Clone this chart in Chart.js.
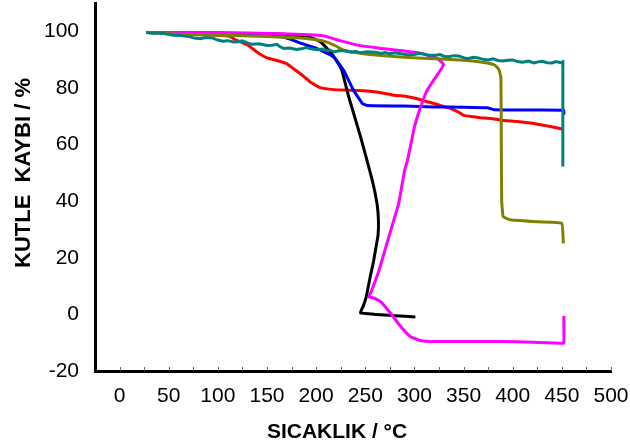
<!DOCTYPE html>
<html>
<head>
<meta charset="utf-8">
<script src="https://cdn.jsdelivr.net/npm/chart.js@4.4.1/dist/chart.umd.min.js"></script>
<style>
  html, body { margin: 0; padding: 0; background: #fff; }
  #wrap { width: 630px; height: 446px; }
</style>
</head>
<body>
<div id="wrap"><canvas id="tgaChart"></canvas></div>
<script>
// axis ticks and titles
const xTicks = [0, 50, 100, 150, 200, 250, 300, 350, 400, 450, 500];
const yTicks = [-20, 0, 20, 40, 60, 80, 100];
const xTitle = "SICAKLIK / °C";
const yTitle = "KUTLE  KAYBI / %";

// temperature (°C) / mass (%) readings for each sample
const blackT = [27, 60, 100, 150, 185, 197, 204, 214, 220, 226, 233, 245, 257, 262, 263.4, 263, 261, 258, 255, 251, 248, 245, 260, 280, 301];
const blackM = [99.6, 99.5, 99.3, 99.2, 98.4, 97.5, 96.4, 92.8, 90, 86.4, 77, 63, 47.5, 39, 33, 28, 23.9, 18, 13.3, 6.2, 3, 0.6, 0, -0.5, -0.9];

const redT = [27, 60, 100, 112, 118, 125, 131, 140, 150, 160, 170, 177, 184, 194, 204, 218, 235, 252, 265, 279, 292, 303, 312, 320, 330, 337, 345, 350, 360, 367, 378, 388, 405, 421.6, 435, 449, 451];
const redM = [99.6, 99.2, 98.6, 98.2, 97, 96, 95, 92.6, 90.6, 89.7, 88.6, 86.8, 85, 82.1, 80.1, 79.4, 79.2, 78.9, 78.4, 77.4, 77, 76.2, 75.2, 74.5, 73.4, 72.7, 71.4, 70.3, 69.8, 69.5, 69.2, 68.6, 68.1, 67.4, 66.6, 65.6, 65.5];

const blueT = [27, 80, 130, 160, 174, 184, 201, 218, 228, 238, 247, 252, 290, 320, 350, 374, 381, 420, 452, 452];
const blueM = [99.6, 99.3, 99, 98.3, 97.2, 95.8, 93.9, 90.9, 86.2, 79.2, 74.5, 73.8, 73.6, 73.3, 73.2, 73, 72.3, 72.2, 72.1, 70.5];

const magentaT = [27, 100, 163, 207, 224, 241, 265, 306, 323, 329.6, 322, 313, 306, 300, 293, 290, 284, 274, 264, 256, 253.5, 259, 265.5, 275.7, 286, 296, 306, 320, 354, 388, 420, 448.8, 452, 452];
const magentaM = [99.6, 99.6, 99.1, 98.4, 96.7, 95.2, 94, 92.3, 90.5, 88.2, 84, 79.2, 73, 66.2, 54.5, 50.9, 39.2, 27.4, 15.6, 8, 6.2, 5.7, 4.5, 0.4, -4.3, -7.9, -9.2, -9.6, -9.6, -9.6, -9.8, -10.2, -10.2, -0.6];

const tealT = [27, 32, 35, 41.5, 48, 55, 62, 70, 76, 82, 88, 95, 100, 105, 110, 116, 121, 125, 130, 135, 142, 150, 155, 160, 163, 167, 173, 180, 185, 190, 195, 201, 206, 210, 214, 218, 224, 230, 236, 240, 245, 252, 260, 266, 270, 275, 280, 286, 293, 300, 305, 310, 315, 320, 326, 330, 335, 340, 345, 350, 354, 360, 365, 370, 375, 380, 385, 390, 395, 400, 405, 410, 416, 421.6, 426, 430, 435, 440, 444, 449, 451, 451];
const tealM = [99.7, 99.4, 99.3, 99.5, 99.0, 98.6, 98.5, 98.2, 97.6, 97.4, 97.8, 97.6, 96.9, 96.5, 96.7, 96.2, 96.3, 96.6, 95.9, 95.4, 95.6, 95, 95.1, 95.4, 94.6, 93.9, 94.1, 93.6, 93.8, 94.3, 93.8, 93.5, 93.7, 93.2, 93.4, 92.7, 93.2, 93, 92.6, 92.9, 92.4, 92.8, 92.6, 92.2, 92.5, 92.1, 92.4, 92.1, 91.7, 91.8, 92.2, 91.9, 91.5, 91.5, 91.8, 91.2, 91, 91.4, 91.3, 90.7, 90.3, 90.8, 90.6, 90.1, 89.9, 90.3, 89.7, 89.5, 89.8, 89.9, 89.3, 89.1, 89.5, 88.8, 89.2, 89.4, 88.9, 88.8, 89.3, 88.9, 89.2, 52.2];

const oliveT = [27, 60, 100, 150, 184, 200, 211, 220, 228, 240, 252, 286, 320, 354, 374, 382, 386, 388, 388.4, 388.8, 390.3, 397, 420, 449.8, 451.5];
const oliveM = [99.6, 99, 98.6, 98.2, 97.6, 97, 96.2, 94.8, 93.3, 92.5, 91.9, 90.9, 90.3, 89.7, 88.8, 88, 86.5, 83.5, 60, 40, 34.5, 33.4, 32.8, 32.2, 25.1];

function pts(T, M) {
  return T.map((t, i) => ({ x: t, y: M[i] }));
}

function line(T, M, color, tension) {
  return {
    data: pts(T, M),
    borderColor: color,
    backgroundColor: color,
    borderWidth: 3,
    pointRadius: 0,
    showLine: true,
    tension: tension,
    fill: false
  };
}

// small inward tick marks on the temperature axis plus both axis titles
const decor = {
  id: "decor",
  beforeDatasetsDraw(chart) {
    const { ctx, chartArea, scales } = chart;
    ctx.save();
    ctx.strokeStyle = "#666";
    ctx.lineWidth = 1;
    for (let t = 0; t <= 500; t += 25) {
      const px = Math.round(scales.x.getPixelForValue(t)) + 0.5;
      ctx.beginPath();
      ctx.moveTo(px, chartArea.bottom);
      ctx.lineTo(px, chartArea.bottom - 4);
      ctx.stroke();
    }
    ctx.restore();
  },
  afterDraw(chart) {
    const ctx = chart.ctx;
    ctx.save();
    ctx.fillStyle = "#000";
    ctx.textAlign = "center";
    ctx.textBaseline = "middle";
    ctx.font = "bold 21px 'Liberation Sans', Arial, sans-serif";
    ctx.fillText(xTitle, 337, 432);
    ctx.translate(24, 173);
    ctx.rotate(-Math.PI / 2);
    ctx.font = "bold 22px 'Liberation Sans', Arial, sans-serif";
    ctx.fillText(yTitle, 0, 0);
    ctx.restore();
  }
};

const tickFont = { family: "'Liberation Sans', Arial, sans-serif", size: 21 };

new Chart(document.getElementById("tgaChart"), {
  type: "scatter",
  data: {
    datasets: [
      line(tealT, tealM, "#008080", 0),
      line(oliveT, oliveM, "#808000", 0.1),
      line(magentaT, magentaM, "#FF00FF", 0.1),
      line(blueT, blueM, "#0000FF", 0.1),
      line(blackT, blackM, "#000000", 0.1),
      line(redT, redM, "#FF0000", 0.1)
    ]
  },
  options: {
    responsive: true,
    maintainAspectRatio: false,
    animation: false,
    layout: { padding: { top: 3, right: 19, left: 0, bottom: 0 } },
    plugins: { legend: { display: false }, tooltip: { enabled: false } },
    scales: {
      x: {
        type: "linear",
        min: -25,
        max: 500,
        grid: { display: false },
        border: { display: true, color: "#000", width: 3 },
        afterBuildTicks: s => { s.ticks = xTicks.map(v => ({ value: v })); },
        afterFit: s => { s.height = 75; s.paddingLeft = 0; s.paddingRight = 0; },
        ticks: { color: "#000", font: tickFont, padding: 5, maxRotation: 0, autoSkip: false }
      },
      y: {
        min: -20,
        max: 110,
        grid: { display: false },
        border: { display: true, color: "#000", width: 3 },
        afterBuildTicks: s => { s.ticks = yTicks.map(v => ({ value: v })); },
        afterFit: s => { s.width = 95; s.paddingTop = 0; s.paddingBottom = 0; },
        ticks: { color: "#000", font: tickFont, padding: 8 }
      }
    }
  },
  plugins: [decor]
});
</script>
</body>
</html>
